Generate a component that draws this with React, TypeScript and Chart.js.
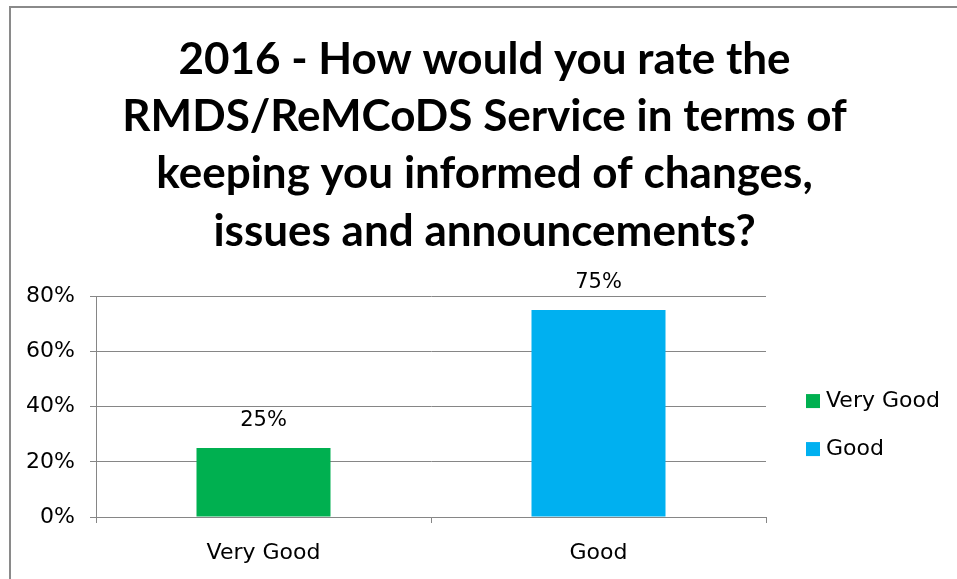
import React, { useEffect, useRef } from "react";
import { Chart, registerables } from "chart.js";

Chart.register(...registerables);

const TITLE_LINES = [
  "2016 - How would you rate the",
  "RMDS/ReMCoDS Service in terms of",
  "keeping you informed of changes,",
  "issues and announcements?",
];
const CATEGORIES = ["Very Good", "Good"];
const VALUES = [25, 75];
const BAR_COLORS = ["#00B050", "#00B0F0"];
const Y_TICKS = [0, 20, 40, 60, 80];

const SMALL_FONT = "'DejaVu Sans', sans-serif";
const TITLE_FONT = "Lato, 'Open Sans', sans-serif";

const dataLabelPlugin = {
  id: "dataLabels",
  afterDatasetsDraw(chart: any) {
    const ctx = chart.ctx;
    const meta = chart.getDatasetMeta(0);
    ctx.save();
    ctx.font = `21px ${SMALL_FONT}`;
    ctx.fillStyle = "#000";
    ctx.textAlign = "center";
    ctx.textBaseline = "middle";
    meta.data.forEach((bar: any, i: number) => {
      ctx.fillText(`${VALUES[i]}%`, bar.x, bar.y - 27);
    });
    ctx.restore();
  },
};

const customLegendPlugin = {
  id: "customLegend",
  afterDraw(chart: any) {
    const ctx = chart.ctx;
    const area = chart.chartArea;
    const ds = chart.data.datasets[0];
    const x = area.right + 40;
    const centerY = (area.top + area.bottom) / 2 + 18.5;
    const gap = 48;
    const n = chart.data.labels.length;
    ctx.save();
    ctx.font = `22px ${SMALL_FONT}`;
    ctx.textBaseline = "middle";
    ctx.textAlign = "left";
    chart.data.labels.forEach((label: string, i: number) => {
      const y = centerY + (i - (n - 1) / 2) * gap;
      ctx.fillStyle = ds.backgroundColor[i];
      ctx.fillRect(x, y - 7, 14, 14);
      ctx.fillStyle = "#000";
      ctx.fillText(label, x + 20, y);
    });
    ctx.restore();
  },
};

export default function App() {
  const canvasRef = useRef<HTMLCanvasElement | null>(null);

  useEffect(() => {
    if (!canvasRef.current) return;
    const chart = new Chart(canvasRef.current, {
      type: "bar",
      data: {
        labels: CATEGORIES,
        datasets: [
          {
            label: "2016",
            data: VALUES,
            backgroundColor: BAR_COLORS,
            barPercentage: 0.4,
            categoryPercentage: 1.0,
          },
        ],
      },
      options: {
        animation: false,
        responsive: false,
        devicePixelRatio: 1,
        layout: { padding: { left: 12, right: 0, top: 0, bottom: 0 } },
        plugins: {
          legend: { display: false },
          tooltip: { enabled: false },
          title: {
            display: true,
            text: TITLE_LINES,
            color: "#000",
            font: { family: TITLE_FONT, size: 44, weight: "bold", lineHeight: 1.302 },
            padding: { top: 31, bottom: 36 },
          },
        },
        scales: {
          x: {
            grid: {
              display: true,
              drawOnChartArea: false,
              drawTicks: true,
              tickLength: 6,
              color: "#868686",
              offset: true,
            },
            border: { display: true, color: "#868686" },
            ticks: {
              color: "#000",
              font: { family: SMALL_FONT, size: 22 },
              padding: 17,
            },
            afterFit: (s: any) => {
              s.height = 62;
            },
          },
          y: {
            min: 0,
            max: 80,
            afterBuildTicks: (s: any) => {
              s.ticks = Y_TICKS.map((v) => ({ value: v }));
            },
            grid: {
              color: "#868686",
              drawTicks: true,
              tickLength: 6,
            },
            border: { display: true, color: "#868686" },
            ticks: {
              color: "#000",
              font: { family: SMALL_FONT, size: 22 },
              padding: 15,
              callback: (v: any) => `${v}%`,
            },
            afterFit: (s: any) => {
              s.width = 84;
            },
          },
          y2: {
            position: "right",
            display: true,
            grid: { display: false, drawTicks: false },
            border: { display: false },
            ticks: { display: false },
            afterFit: (s: any) => {
              s.width = 191;
            },
          },
        },
      },
      plugins: [dataLabelPlugin, customLegendPlugin],
    } as any);
    return () => chart.destroy();
  }, []);

  return (
    <div
      style={{
        position: "fixed",
        left: 0,
        top: 0,
        width: 957,
        height: 579,
        background: "#fff",
      }}
    >
      <canvas ref={canvasRef} width={957} height={579} style={{ display: "block" }} />
      <div
        style={{
          position: "absolute",
          left: 9,
          top: 6,
          right: 0,
          height: 2,
          background: "#8a8a8a",
        }}
      />
      <div
        style={{
          position: "absolute",
          left: 9,
          top: 6,
          bottom: 0,
          width: 2,
          background: "#8a8a8a",
        }}
      />
    </div>
  );
}
